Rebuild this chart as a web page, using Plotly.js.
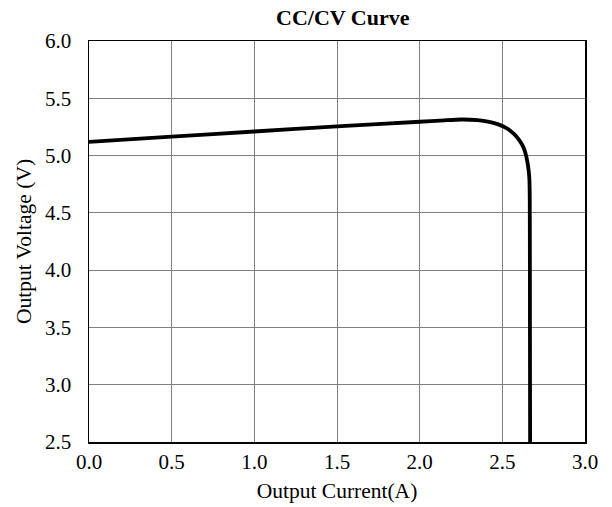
<!DOCTYPE html>
<html><head><meta charset="utf-8">
<script src="https://cdn.plot.ly/plotly-3.0.1.min.js"></script>
<style>html,body{margin:0;padding:0;background:#fff}</style>
</head><body><div id="chart" style="width:612px;height:507px"></div>
<script>
const currentA = [0, 0.5, 1.0, 1.5, 2.0, 2.15, 2.25, 2.35, 2.42, 2.48, 2.53, 2.57, 2.6, 2.625, 2.64, 2.652, 2.66, 2.664, 2.666, 2.667, 2.668];
const voltageV = [5.12, 5.165, 5.21, 5.255, 5.295, 5.308, 5.315, 5.31, 5.295, 5.27, 5.235, 5.19, 5.14, 5.08, 5.02, 4.94, 4.86, 4.78, 4.6, 3.5, 2.5];
const xTicks = [0, 0.5, 1.0, 1.5, 2.0, 2.5, 3.0];
const yTicks = [2.5, 3.0, 3.5, 4.0, 4.5, 5.0, 5.5, 6.0];
const fnt = {family: 'Liberation Serif, Times New Roman, serif', color: '#000'};
Plotly.newPlot('chart', [{
  x: currentA, y: voltageV, type: 'scatter', mode: 'lines',
  line: {color: '#000', width: 3.8, shape: 'spline', smoothing: 0.6}, hoverinfo: 'none'
}], {
  width: 612, height: 507,
  margin: {l: 89, r: 27, t: 41, b: 65},
  paper_bgcolor: '#fff', plot_bgcolor: '#fff',
  showlegend: false,
  title: {text: '<b>CC/CV Curve</b>', font: Object.assign({}, fnt, {size: 22}), x: 0.56, xanchor: 'center', y: 0.965, yanchor: 'middle'},
  xaxis: {
    range: [0, 3], tickvals: xTicks, ticktext: xTicks.map(v => v.toFixed(1)),
    showgrid: true, gridcolor: '#808080', gridwidth: 1, zeroline: false,
    showline: true, linecolor: '#000', linewidth: 1.5, mirror: true, ticks: '',
    tickfont: Object.assign({}, fnt, {size: 21}), ticklabelstandoff: 0,
    title: {text: 'Output Current(A)', font: Object.assign({}, fnt, {size: 21.5}), standoff: 10}
  },
  yaxis: {
    range: [2.5, 6], tickvals: yTicks, ticktext: yTicks.map(v => v.toFixed(1)),
    showgrid: true, gridcolor: '#808080', gridwidth: 1, zeroline: false,
    showline: true, linecolor: '#000', linewidth: 1.5, mirror: true, ticks: '',
    tickfont: Object.assign({}, fnt, {size: 21}), ticklabelstandoff: 12,
    title: {text: 'Output Voltage (V)', font: Object.assign({}, fnt, {size: 21.5}), standoff: 7}
  }
}, {staticPlot: true});
</script></body></html>
